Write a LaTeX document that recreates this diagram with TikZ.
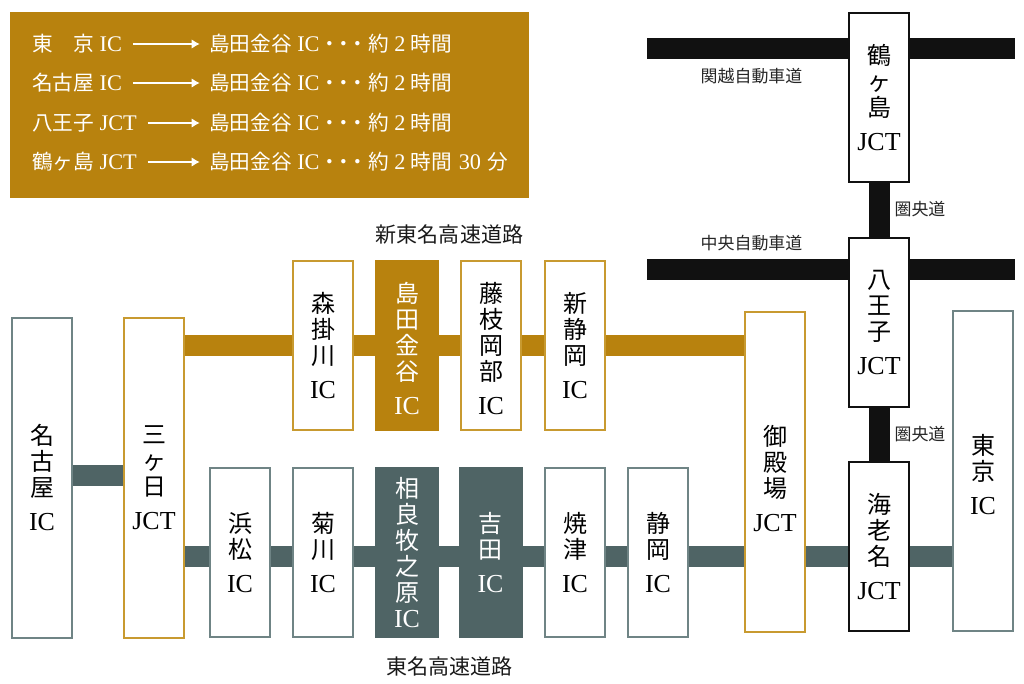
\documentclass[tikz,border=0pt]{standalone}
\usepackage{fontspec}
\setmainfont{Liberation Serif}[Scale=1.08]
\newfontfamily\cjk{Noto Sans CJK JP}
\usetikzlibrary{backgrounds,arrows.meta}
\definecolor{roadgold}{HTML}{B8820E}
\definecolor{roadteal}{HTML}{4F6465}
\definecolor{roadblack}{HTML}{111111}
\definecolor{edgegold}{HTML}{C89A30}
\definecolor{edgeteal}{HTML}{6F8485}
\newcommand{\ltn}[1]{{\rmfamily #1}}
\newcommand{\topgap}[1]{\rule{0pt}{#1}}
\newcommand{\shimada}{島田金谷\hspace{4pt}\ltn{IC}・\kern-5pt・\kern-5pt・約\hspace{4pt}\ltn{2}\hspace{4pt}時間}
\tikzset{
    stop/.style={draw,fill=white,line width=1.5pt,inner sep=0pt,minimum width=45pt,align=center,
        font=\cjk\fontsize{18}{19.5}\selectfont},
    tall/.style={minimum height=240pt},
    short/.style={minimum height=126.75pt},
    icbox/.style={stop,draw=edgeteal},
    jctgold/.style={stop,draw=edgegold},
    jctblack/.style={stop,draw=roadblack},
    tealbox/.style={stop,draw=none,minimum height=128.25pt,minimum width=48pt,fill=roadteal,text=white},
    goldbox/.style={stop,draw=none,minimum height=128.25pt,minimum width=48pt,fill=roadgold,text=white},
    road/.style={line width=15.75pt},
    roadname/.style={inner sep=0pt,font=\cjk\fontsize{12.7}{15}\selectfont,text=black!85},
    linename/.style={inner sep=0pt,font=\cjk\fontsize{15.8}{18}\selectfont,text=black!90},
    legendtext/.style={anchor=west,inner sep=0pt,text=white,text height=12.5pt,text depth=1.5pt,
        font=\cjk\fontsize{15.5}{18}\selectfont},
    legendarrow/.style={-{Latex[length=6pt,width=7pt]},white,line width=0.8pt,shorten <=8pt,shorten >=7pt}
}
\begin{document}
\begin{tikzpicture}[x=0.75pt,y=-0.75pt]
    \useasboundingbox (0,0) rectangle (1024,683);
    % legend
    \fill[roadgold] (10,12) rectangle (529,198);
    \node[legendtext] (fromtokyo) at (32,44) {東　京\hspace{4pt}\ltn{IC}};
    \node[legendtext] (fromnagoya) at (32,83) {名古屋\hspace{4pt}\ltn{IC}};
    \node[legendtext] (fromhachi) at (32,123) {八王子\hspace{4pt}\ltn{JCT}};
    \node[legendtext] (fromtsuru) at (32,162) {鶴ヶ島\hspace{4pt}\ltn{JCT}};
    \node[legendtext] (totokyo) at (209,44) {\shimada};
    \node[legendtext] (tonagoya) at (209,83) {\shimada};
    \node[legendtext] (tohachi) at (209,123) {\shimada};
    \node[legendtext] (totsuru) at (209,162) {\shimada\hspace{5pt}\ltn{30}\hspace{5pt}分};
    \draw[legendarrow] (fromtokyo) -- (totokyo);
    \draw[legendarrow] (fromnagoya) -- (tonagoya);
    \draw[legendarrow] (fromhachi) -- (tohachi);
    \draw[legendarrow] (fromtsuru) -- (totsuru);
    % left end
    \node[icbox,tall] (nagoya) at (42,477.5) {名\\古\\屋\\[6pt]\ltn{IC}};
    \node[jctgold,tall] (mikkabi) at (154,477.5) {三\\ヶ\\日\\[6pt]\ltn{JCT}};
    % Shin-Tomei row
    \node[jctgold,short] (morikake) at (323,345.5) {森\\掛\\川\\[6pt]\ltn{IC}};
    \node[goldbox] (shimada) at (407,345.5) {\topgap{19pt}島\\田\\金\\谷\\[6pt]\ltn{IC}};
    \node[jctgold,short] (fujieda) at (491,345.5) {\topgap{19pt}藤\\枝\\岡\\部\\[6pt]\ltn{IC}};
    \node[jctgold,short] (shinshizuoka) at (575,345.5) {新\\静\\岡\\[6pt]\ltn{IC}};
    % Tomei row
    \node[icbox,short] (hamamatsu) at (240,552.5) {浜\\松\\[6pt]\ltn{IC}};
    \node[icbox,short] (kikugawa) at (323,552.5) {菊\\川\\[6pt]\ltn{IC}};
    \node[tealbox] (sagara) at (407,552.5) {相\\良\\牧\\之\\原\\\ltn{IC}};
    \node[tealbox] (yoshida) at (490.5,552.5) {吉\\田\\[6pt]\ltn{IC}};
    \node[icbox,short] (yaizu) at (575,552.5) {焼\\津\\[6pt]\ltn{IC}};
    \node[icbox,short] (shizuoka) at (658,552.5) {静\\岡\\[6pt]\ltn{IC}};
    % right end
    \node[jctgold,tall] (gotemba) at (775,471.5) {\topgap{26pt}御\\殿\\場\\[6pt]\ltn{JCT}};
    \node[jctblack,short] (ebina) at (879,546.5) {海\\老\\名\\[6pt]\ltn{JCT}};
    \node[icbox,tall] (tokyo) at (983,470.5) {\topgap{20.5pt}東\\京\\[6pt]\ltn{IC}};
    \node[jctblack,short] (hachioji) at (879,322) {八\\王\\子\\[6pt]\ltn{JCT}};
    \node[jctblack,short] (tsurugashima) at (879,97.5) {鶴\\ヶ\\島\\[6pt]\ltn{JCT}};
    % road ends
    \coordinate (meishin) at (0,475.5);
    \coordinate (tomei) at (0,556.5);
    \coordinate (kanetsuw) at (647,48.5);
    \coordinate (kanetsue) at (1015,48.5);
    \coordinate (chuow) at (647,269.5);
    \coordinate (chuoe) at (1015,269.5);
    \begin{pgfonlayer}{background}
        \draw[road,roadteal] (nagoya.east |- meishin)--(mikkabi.west |- meishin);
        \draw[road,roadteal] (mikkabi.east |- tomei)--(tokyo.west |- tomei);
        \draw[road,roadgold] (mikkabi.east |- morikake)--(gotemba.west |- morikake);
        \draw[road,roadblack] (kanetsuw)--(kanetsue);
        \draw[road,roadblack] (chuow)--(chuoe);
        \draw[road,roadblack] (tsurugashima)--(hachioji);
        \draw[road,roadblack] (hachioji)--(ebina);
    \end{pgfonlayer}
    % names
    \node[linename] (shintomeiname) at (449.5,234) {新東名高速道路};
    \node[linename] (tomeiname) at (449.5,666) {東名高速道路};
    \node[roadname] (kanetsuname) at (751.5,76) {関越自動車道};
    \node[roadname] (chuoname) at (751.5,243) {中央自動車道};
    \node[roadname] (kenouname) at (920,209) {圏央道};
    \node[roadname] (kenouname2) at (920,434) {圏央道};
\end{tikzpicture}
\end{document}
